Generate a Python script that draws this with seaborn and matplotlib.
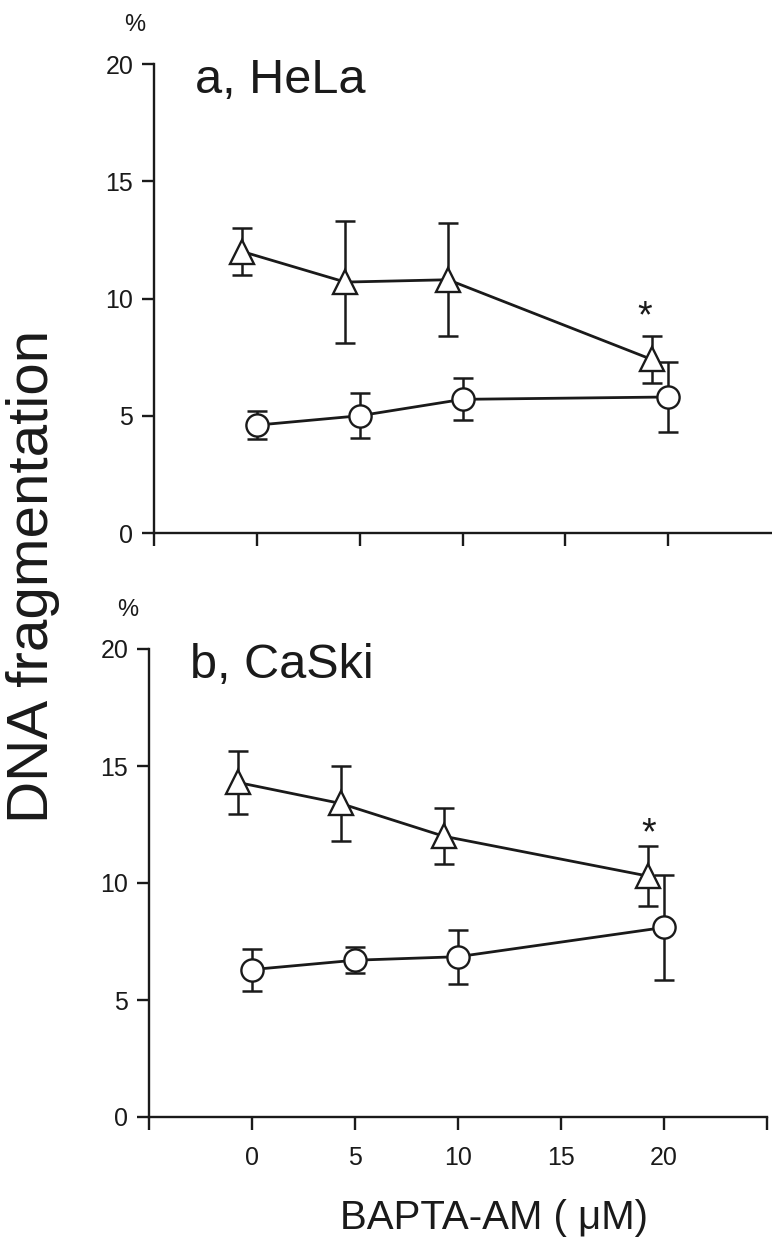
import matplotlib
matplotlib.use("Agg")
import matplotlib.pyplot as plt
import seaborn as sns
import pandas as pd

# ---------------- data ----------------
conc_circle = [0, 5, 10, 20]
conc_triangle = [-0.7, 4.3, 9.3, 19.2]

hela_tri_mean = [12.0, 10.7, 10.8, 7.4]
hela_tri_err = [1.0, 2.6, 2.4, 1.0]
hela_circ_mean = [4.6, 5.0, 5.7, 5.8]
hela_circ_err = [0.6, 0.95, 0.9, 1.5]

caski_tri_mean = [14.3, 13.4, 12.0, 10.3]
caski_tri_err = [1.35, 1.6, 1.2, 1.3]
caski_circ_mean = [6.3, 6.7, 6.85, 8.1]
caski_circ_err = [0.9, 0.55, 1.15, 2.25]

x_ticks = [-5, 0, 5, 10, 15, 20, 25]
x_ticklabels = ["", "0", "5", "10", "15", "20", ""]
y_ticks = [0, 5, 10, 15, 20]
panel_titles = ["a, HeLa", "b, CaSki"]
star_pos = [(18.5, 9.2), (18.9, 12.1)]

# ---------------- style ----------------
sns.set_style("ticks")
plt.rcParams["font.family"] = ["Liberation Sans", "DejaVu Sans"]
plt.rcParams["axes.linewidth"] = 1.7

W, H = 772, 1237
fig = plt.figure(figsize=(W / 100, H / 100), dpi=100)


def fx(px):
    return px / W


def fy(py):
    return 1 - py / H


ax1 = fig.add_axes([fx(154), fy(533), fx(771) - fx(154), fy(64) - fy(533)])
ax2 = fig.add_axes([fx(149), fy(1117), fx(767) - fx(149), fy(649) - fy(1117)])

INK = "#1a1a1a"


def draw(ax, tri_m, tri_e, circ_m, circ_e, title, star, show_labels):
    df_t = pd.DataFrame({"x": conc_triangle, "y": tri_m})
    df_c = pd.DataFrame({"x": conc_circle, "y": circ_m})
    ax.errorbar(conc_triangle, tri_m, yerr=tri_e, fmt="none", ecolor=INK,
                elinewidth=1.8, capsize=7, capthick=1.8, zorder=1)
    ax.errorbar(conc_circle, circ_m, yerr=circ_e, fmt="none", ecolor=INK,
                elinewidth=1.8, capsize=7, capthick=1.8, zorder=1)
    sns.lineplot(data=df_t, x="x", y="y", ax=ax, color=INK, linewidth=2.0,
                 marker="^", markersize=17, markerfacecolor="white",
                 markeredgecolor=INK, markeredgewidth=1.7, zorder=3,
                 sort=False)
    sns.lineplot(data=df_c, x="x", y="y", ax=ax, color=INK, linewidth=2.0,
                 marker="o", markersize=16, markerfacecolor="white",
                 markeredgecolor=INK, markeredgewidth=1.7, zorder=3,
                 sort=False)
    ax.set_xlim(-5, 25)
    ax.set_ylim(0, 20)
    ax.set_xticks(x_ticks if show_labels else x_ticks[:-1])
    if show_labels:
        ax.set_xticklabels(x_ticklabels)
    else:
        ax.set_xticklabels([""] * (len(x_ticks) - 1))
    ax.set_yticks(y_ticks)
    ax.set_yticklabels([str(v) for v in y_ticks])
    ax.tick_params(axis="y", direction="out", length=9, width=1.7, pad=6,
                   labelsize=18, colors=INK)
    ax.tick_params(axis="x", direction="out", length=9, width=1.7, pad=12,
                   labelsize=18, colors=INK)
    ax.set_xlabel("")
    ax.set_ylabel("")
    for s in ["top", "right"]:
        ax.spines[s].set_visible(False)
    for s in ["left", "bottom"]:
        ax.spines[s].set_color(INK)
    ax.spines["left"].set_bounds(0, 20)
    ax.text(-3.0, 19.3, title, fontsize=35, ha="left", va="center",
            color=INK)
    ax.text(star[0], star[1], "*", fontsize=27, ha="left", va="center",
            color=INK)
    for ln in ax.lines:
        ln.set_clip_on(False)


draw(ax1, hela_tri_mean, hela_tri_err, hela_circ_mean, hela_circ_err,
     panel_titles[0], star_pos[0], False)
draw(ax2, caski_tri_mean, caski_tri_err, caski_circ_mean, caski_circ_err,
     panel_titles[1], star_pos[1], True)

fig.text(fx(135), fy(25), "%", fontsize=17, ha="center", va="center",
         color=INK)
fig.text(fx(128), fy(610), "%", fontsize=17, ha="center", va="center",
         color=INK)
fig.text(fx(33), fy(576), "DNA fragmentation", fontsize=42, rotation=90,
         ha="center", va="center", color=INK)
fig.text(fx(494), fy(1218), "BAPTA-AM ( μM)", fontsize=29, ha="center",
         va="center", color=INK)

fig.savefig("out.png", dpi=100)
